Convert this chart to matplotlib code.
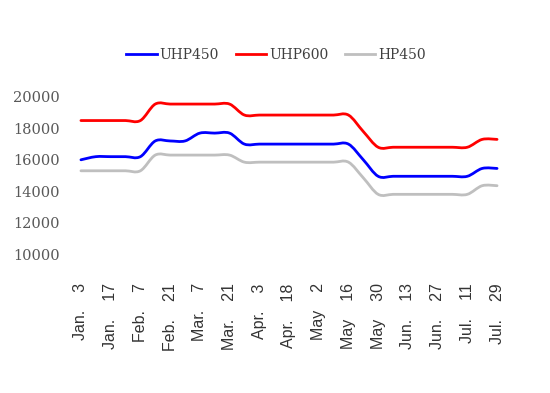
import numpy as np
import matplotlib
matplotlib.use('Agg')
import matplotlib.pyplot as plt
from matplotlib.path import Path
from matplotlib.patches import PathPatch
from matplotlib.lines import Line2D

# weekly prices
uhp450 = [16000, 16200, 16200, 16200, 16200, 17200, 17200, 17200, 17700, 17700,
          17700, 17000, 17000, 17000, 17000, 17000, 17000, 17000, 17000, 16000,
          14950, 14950, 14950, 14950, 14950, 14950, 14950, 15450, 15450]
uhp600 = [18500, 18500, 18500, 18500, 18500, 19550, 19550, 19550, 19550, 19550,
          19550, 18850, 18850, 18850, 18850, 18850, 18850, 18850, 18850, 17800,
          16800, 16800, 16800, 16800, 16800, 16800, 16800, 17300, 17300]
hp450 = [15300, 15300, 15300, 15300, 15300, 16300, 16300, 16300, 16300, 16300,
         16300, 15850, 15850, 15850, 15850, 15850, 15850, 15850, 15850, 14850,
         13800, 13800, 13800, 13800, 13800, 13800, 13800, 14350, 14350]

tick_labels = ['Jan.    3', 'Jan.    17', 'Feb.    7', 'Feb.    21', 'Mar.    7',
               'Mar.    21', 'Apr.    3', 'Apr.    18', 'May    2', 'May    16',
               'May    30', 'Jun.    13', 'Jun.    27', 'Jul.    11', 'Jul.    29']

series = [('UHP450', uhp450, '#0000FF'),
          ('UHP600', uhp600, '#FF0000'),
          ('HP450', hp450, '#BFBFBF')]


def smooth_path(xs, ys):
    # excel-like smoothed line (catmull-rom as cubic bezier)
    p = np.column_stack([xs, ys]).astype(float)
    ext = np.vstack([p[0], p, p[-1]])
    verts = [p[0]]
    codes = [Path.MOVETO]
    for i in range(len(p) - 1):
        p0, p1, p2, p3 = ext[i], ext[i + 1], ext[i + 2], ext[i + 3]
        verts += [p1 + (p2 - p0) / 6, p2 - (p3 - p1) / 6, p2]
        codes += [Path.CURVE4] * 3
    return Path(verts, codes)


fig = plt.figure(figsize=(5.5, 3.93), dpi=100)
ax = fig.add_axes([75 / 550, 1 - 254 / 393, 428 / 550, 157 / 393])

x = np.arange(len(uhp450))
handles = []
for name, vals, color in series:
    patch = PathPatch(smooth_path(x, vals), fill=False, edgecolor=color,
                      lw=2.0, capstyle='round', joinstyle='round',
                      transform=ax.transData, clip_on=False)
    ax.add_patch(patch)
    handles.append(Line2D([], [], color=color, lw=2.0, label=name))

ax.set_xlim(-0.4, 28.4)
ax.set_ylim(10000, 20000)
ax.set_yticks(range(10000, 20001, 2000))
ax.set_xticks(x[::2])
ax.set_xticklabels(tick_labels, rotation=90, family='Liberation Sans',
                   fontsize=11.5, color='#333333')
for lbl in ax.get_yticklabels():
    lbl.set_family('DejaVu Serif')
    lbl.set_fontsize(10.5)
    lbl.set_color('#595959')
ax.tick_params(axis='y', length=0, pad=11)
ax.tick_params(axis='x', length=0, pad=21)
for s in ax.spines.values():
    s.set_visible(False)

leg = fig.legend(handles=handles, loc='center', bbox_to_anchor=(276 / 550, 1 - 55 / 393),
                 ncol=3, frameon=False, handlelength=2.2, handletextpad=0.2,
                 columnspacing=1.2, prop={'family': 'DejaVu Serif', 'size': 10})
for t in leg.get_texts():
    t.set_color('#404040')

fig.savefig('out.png', dpi=100)
